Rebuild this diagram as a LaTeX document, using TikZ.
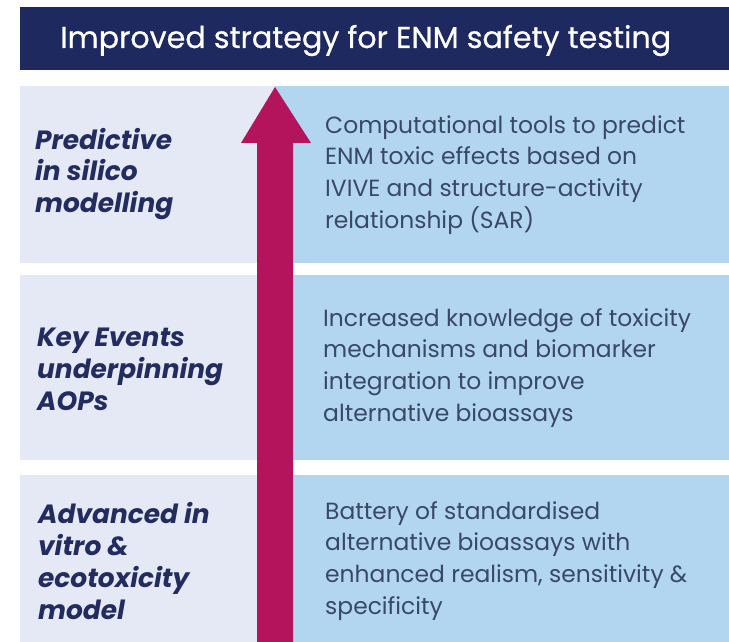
\documentclass[tikz,border=0pt]{standalone}
\usepackage{fontspec}
\setmainfont{Poppins}
\newfontfamily\titlefont[FakeBold=0.6]{Poppins}
\definecolor{barnavy}{HTML}{1E2960}
\definecolor{leftfill}{HTML}{E5E8F5}
\definecolor{rightfill}{HTML}{B2D5F0}
\definecolor{arrowred}{HTML}{B4145C}
\definecolor{labelnavy}{HTML}{232C5E}
\definecolor{textslate}{HTML}{3A4868}
\tikzset{
  titletext/.style={text=white,font=\titlefont\fontsize{30.3}{32}\selectfont,inner sep=0pt,anchor=base west},
  rowlabel/.style={text=labelnavy,font=\fontsize{26.5}{32}\bfseries\itshape\selectfont,align=left,anchor=west,inner sep=0pt},
  rowtext/.style={text=textslate,font=\fontsize{23.5}{32}\selectfont,align=left,anchor=west,inner sep=0pt}
}
\begin{document}
\begin{tikzpicture}[x=1bp,y=-1bp]
\useasboundingbox (0,0) rectangle (729,642);
\fill[white] (0,0) rectangle (729,642);
% title bar
\fill[barnavy] (20,7) rectangle (729,70);
\node[titletext] (title) at (60,48) {Improved strategy for ENM safety testing};
% rows
\fill[leftfill] (20,86) rectangle (275,263);
\fill[rightfill] (275,86) rectangle (729,263);
\fill[leftfill] (20,275) rectangle (275,460);
\fill[rightfill] (275,275) rectangle (729,460);
\fill[leftfill] (20,475) rectangle (275,642);
\fill[rightfill] (275,475) rectangle (729,642);
% arrow
\fill[arrowred] (257,642) -- (257,143) -- (241,143) -- (275,87) -- (311,143)
  -- (293,143) -- (293,642) -- cycle;
% left labels
\node[rowlabel] (silico) at (35,174) {Predictive\\in silico\\modelling};
\node[rowlabel] (events) at (37,369) {Key Events\\underpinning\\AOPs};
\node[rowlabel] (vitro) at (38,561) {Advanced in\\vitro \&\\ecotoxicity\\model};
% right texts
\node[rowtext] (tools) at (325,175) {Computational tools to predict\\ENM toxic effects based on\\IVIVE and structure-activity\\relationship (SAR)};
\node[rowtext] (knowledge) at (323,368) {Increased knowledge of toxicity\\mechanisms and biomarker\\integration to improve\\alternative bioassays};
\node[rowtext] (battery) at (325,561) {Battery of standardised\\alternative bioassays with\\enhanced realism, sensitivity \&\\specificity};
\end{tikzpicture}
\end{document}
